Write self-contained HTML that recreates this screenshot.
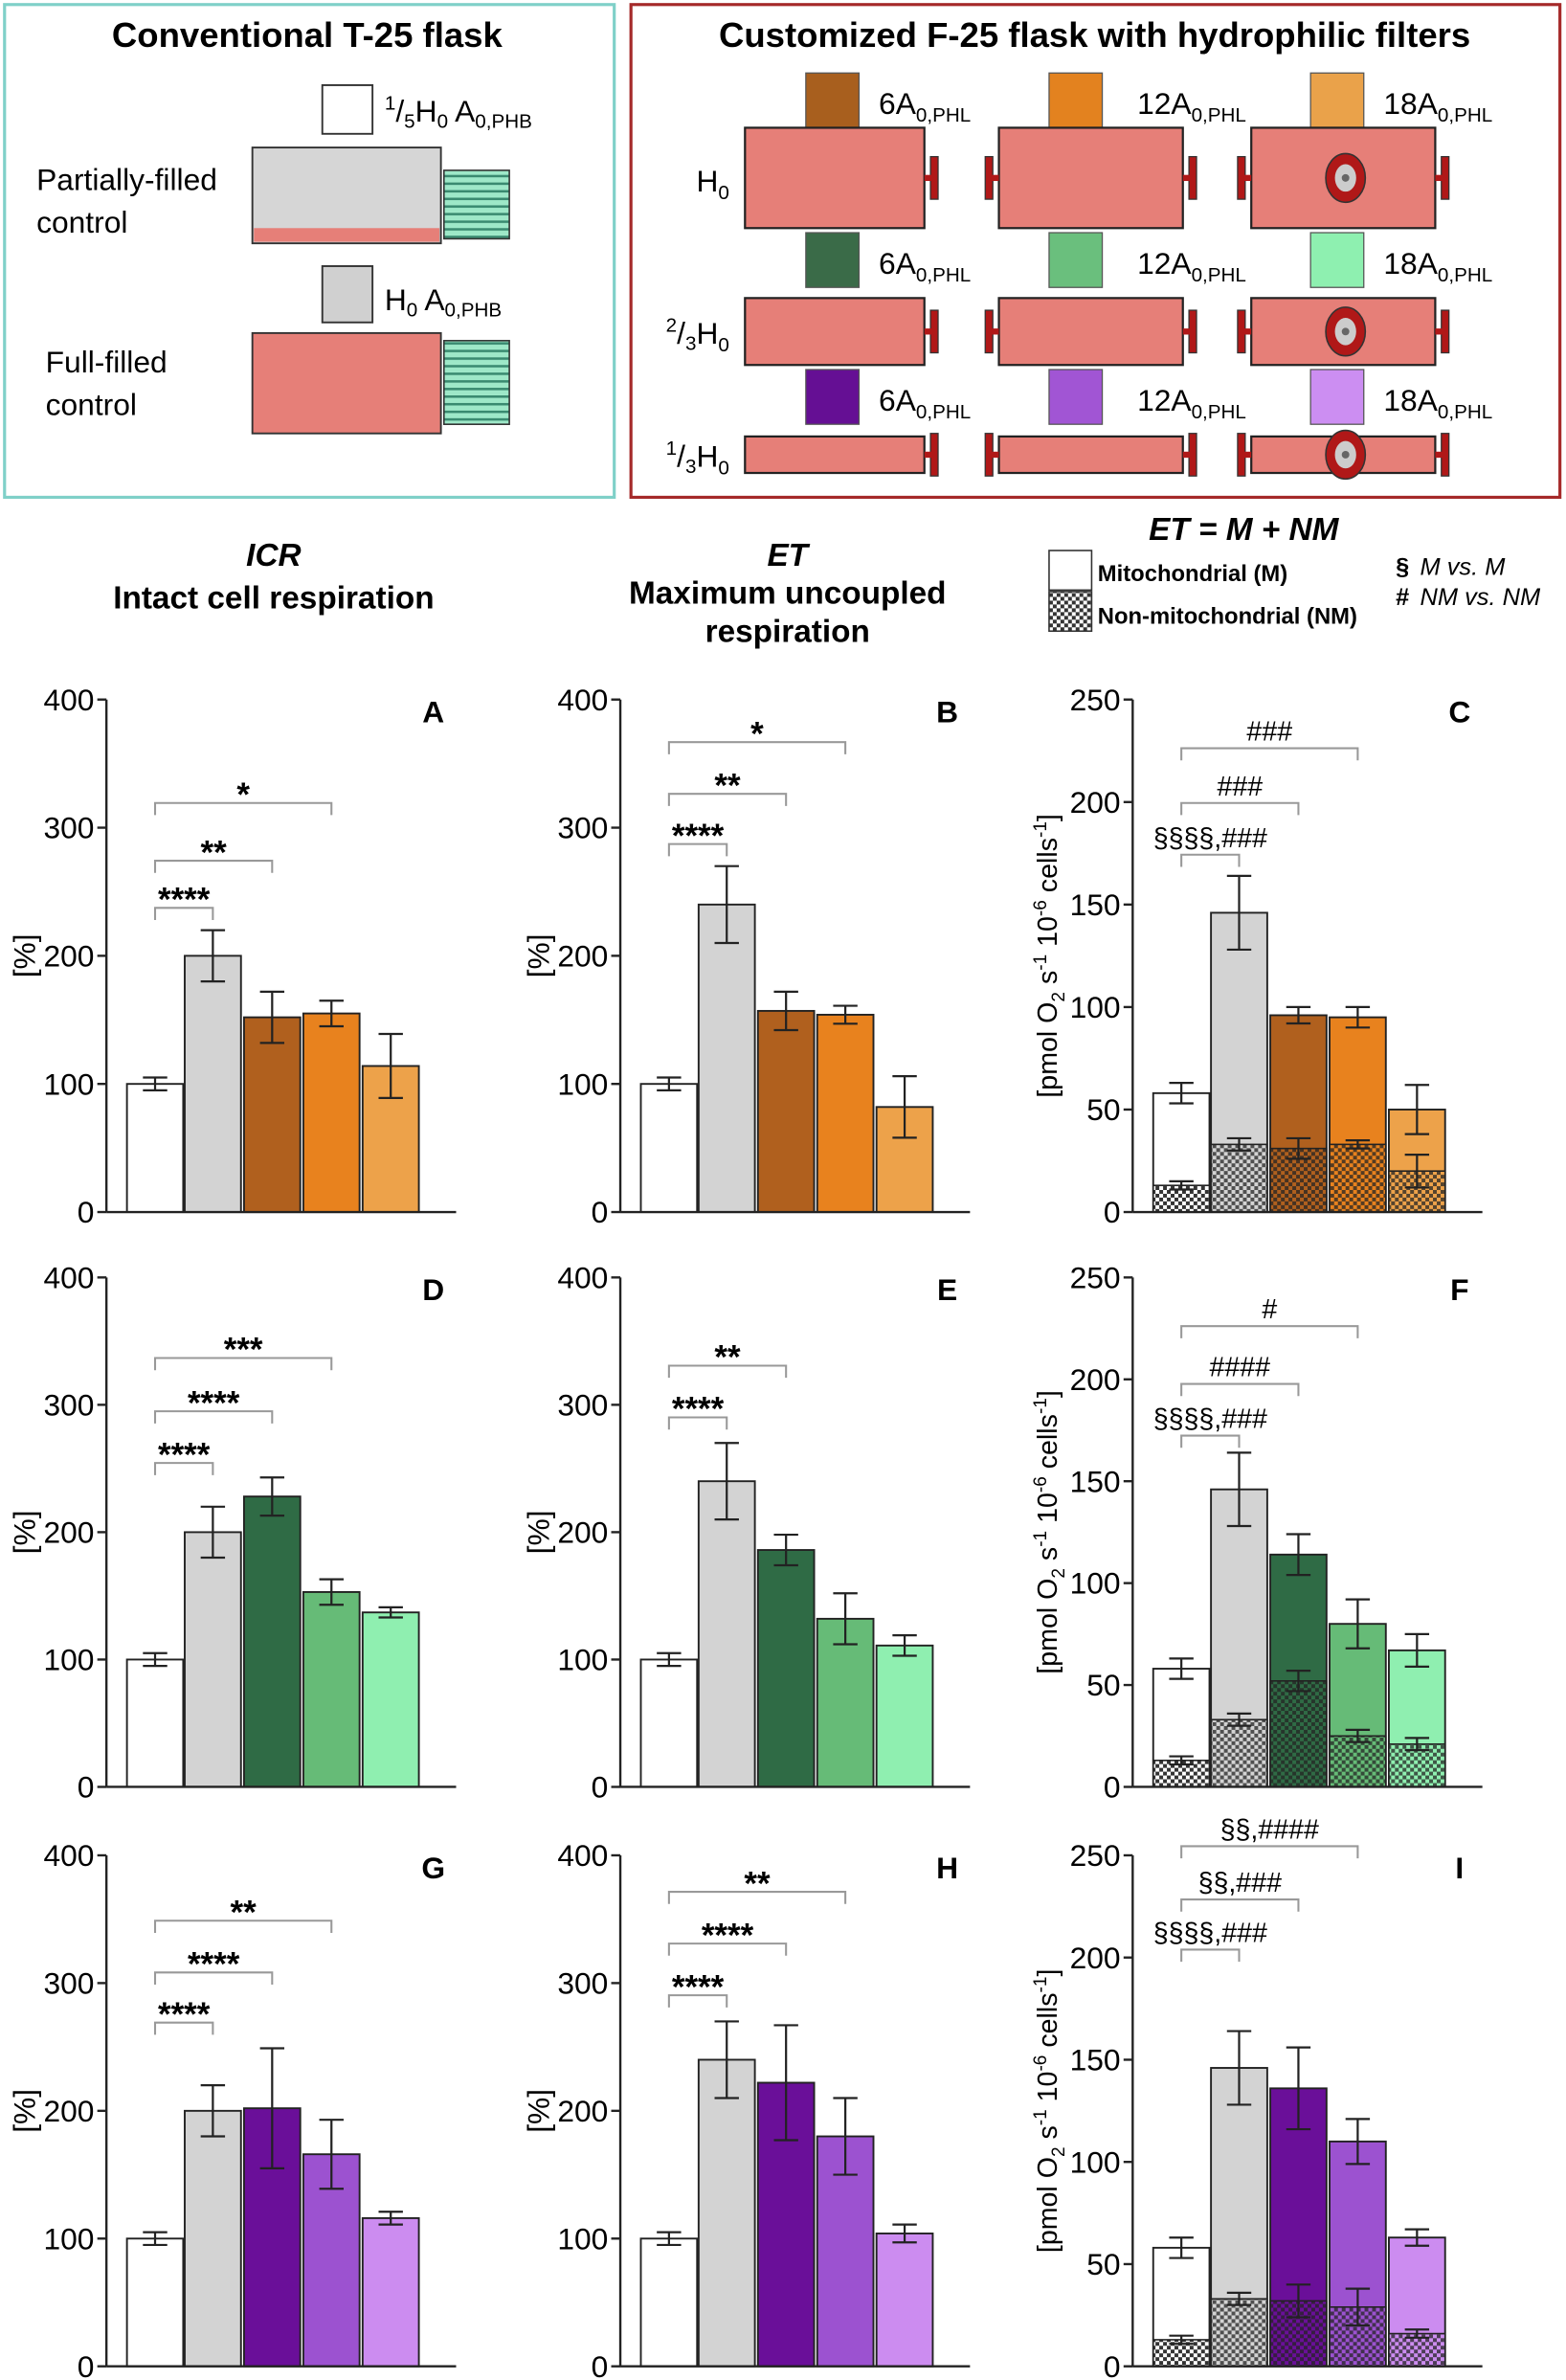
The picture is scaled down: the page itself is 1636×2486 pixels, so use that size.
<!DOCTYPE html>
<html><head><meta charset="utf-8">
<style>
html,body{margin:0;padding:0;background:#fff;}
svg{display:block;font-family:"Liberation Sans",sans-serif;}
</style></head>
<body>
<svg id="s" width="1636" height="2486" viewBox="0 0 1030 1565" preserveAspectRatio="none" xmlns="http://www.w3.org/2000/svg">
<defs>
<pattern id="chk" width="5" height="5" patternUnits="userSpaceOnUse">
<rect width="5" height="5" fill="#fff"/>
<rect width="2.5" height="2.5" fill="#333"/><rect x="2.5" y="2.5" width="2.5" height="2.5" fill="#333"/>
</pattern>
<pattern id="chk2" width="5" height="5" patternUnits="userSpaceOnUse">
<rect width="2.5" height="2.5" fill="#222" opacity="0.75"/><rect x="2.5" y="2.5" width="2.5" height="2.5" fill="#222" opacity="0.75"/>
</pattern>
<pattern id="str" width="10" height="5" patternUnits="userSpaceOnUse">
<rect width="10" height="5" fill="#9ee8c8"/><rect width="10" height="1.6" fill="#3a8a70"/>
</pattern>
</defs>
<g id="top"></g>
<g id="charts"></g>
</svg>
<script>
const NS="http://www.w3.org/2000/svg";
function el(p,t,a,txt){const e=document.createElementNS(NS,t);for(const k in a)e.setAttribute(k,a[k]);if(txt!==undefined)e.textContent=txt;p.appendChild(e);return e;}
const T=document.getElementById('top');
el(T,'rect',{x:3,y:3,width:401,height:324,fill:'none',stroke:'#7fd0c8','stroke-width':2});
el(T,'rect',{x:415,y:3,width:611,height:324,fill:'none',stroke:'#a52a2a','stroke-width':2});
el(T,'text',{x:202,y:31,'text-anchor':'middle','font-size':23,'font-weight':'bold'},'Conventional T-25 flask');
el(T,'text',{x:720,y:31,'text-anchor':'middle','font-size':23,'font-weight':'bold'},'Customized F-25 flask with hydrophilic filters');
const pink='#e67f78';
el(T,'rect',{x:212,y:56,width:33,height:32,fill:'#fff',stroke:'#333','stroke-width':1.2});
let t=el(T,'text',{x:253,y:80,'font-size':20});
t.innerHTML='<tspan font-size="13" dy="-8">1</tspan><tspan dy="8">/</tspan><tspan font-size="13" dy="4">5</tspan><tspan dy="-4">H</tspan><tspan font-size="13" dy="4">0</tspan><tspan dy="-4"> A</tspan><tspan font-size="13" dy="4">0,PHB</tspan>';
el(T,'rect',{x:166,y:97,width:124,height:63,fill:'#d6d6d6',stroke:'#333','stroke-width':1.2});
el(T,'rect',{x:167,y:150,width:122,height:9,fill:pink});
el(T,'rect',{x:292,y:112,width:43,height:45,fill:'url(#str)',stroke:'#333','stroke-width':1});
el(T,'text',{x:24,y:125,'font-size':20},'Partially-filled');
el(T,'text',{x:24,y:153,'font-size':20},'control');
el(T,'rect',{x:212,y:175,width:33,height:37,fill:'#d0d0d0',stroke:'#333','stroke-width':1.2});
t=el(T,'text',{x:253,y:204,'font-size':20});
t.innerHTML='H<tspan font-size="13" dy="4">0</tspan><tspan dy="-4"> A</tspan><tspan font-size="13" dy="4">0,PHB</tspan>';
el(T,'rect',{x:166,y:219,width:124,height:66,fill:pink,stroke:'#333','stroke-width':1.2});
el(T,'rect',{x:292,y:224,width:43,height:55,fill:'url(#str)',stroke:'#333','stroke-width':1});
el(T,'text',{x:30,y:245,'font-size':20},'Full-filled');
el(T,'text',{x:30,y:273,'font-size':20},'control');
const sw=[['#a85f1e','#e3821f','#eaa24a'],['#3a6b48','#6abf7d','#8ef0b0'],['#650f94','#a155d4','#cc8ef2']];
const swy=[48,153,243], fl=[[84,150],[196,240],[287,311]];
const sx=[530,690,862], lx=[578,748,910], fx=[[490,608],[657,778],[823,944]];
for(let r=0;r<3;r++){
 for(let i=0;i<3;i++){
  el(T,'rect',{x:sx[i],y:swy[r],width:35,height:36,fill:sw[r][i],stroke:'#555','stroke-width':0.8});
  let tt=el(T,'text',{x:lx[i],y:swy[r]+27,'font-size':20});
  tt.innerHTML=(i==0?'6':i==1?'12':'18')+'A<tspan font-size="13" dy="5">0,PHL</tspan>';
  const [y1,y2]=fl[r];
  el(T,'rect',{x:fx[i][0],y:y1,width:fx[i][1]-fx[i][0],height:y2-y1,fill:pink,stroke:'#222','stroke-width':1.4});
  const cy=(y1+y2)/2;
  el(T,'rect',{x:fx[i][1]+4,y:cy-14,width:5,height:28,fill:'#b01818',stroke:'#333','stroke-width':0.8});
  el(T,'rect',{x:fx[i][1],y:cy-2,width:5,height:4,fill:'#b01818'});
  if(i>0){el(T,'rect',{x:fx[i][0]-9,y:cy-14,width:5,height:28,fill:'#b01818',stroke:'#333','stroke-width':0.8});
   el(T,'rect',{x:fx[i][0]-5,y:cy-2,width:5,height:4,fill:'#b01818'});}
  if(i==2){el(T,'ellipse',{cx:885,cy:cy,rx:13,ry:16,fill:'#b01818',stroke:'#333'});
   el(T,'ellipse',{cx:885,cy:cy,rx:7,ry:9,fill:'#ccc'});el(T,'circle',{cx:885,cy:cy,r:2.5,fill:'#666'});}
 }
}
t=el(T,'text',{x:458,y:126,'font-size':20});t.innerHTML='H<tspan font-size="13" dy="5">0</tspan>';
t=el(T,'text',{x:438,y:226,'font-size':20});t.innerHTML='<tspan font-size="13" dy="-8">2</tspan><tspan dy="8">/</tspan><tspan font-size="13" dy="4">3</tspan><tspan dy="-4">H</tspan><tspan font-size="13" dy="5">0</tspan>';
t=el(T,'text',{x:438,y:307,'font-size':20});t.innerHTML='<tspan font-size="13" dy="-8">1</tspan><tspan dy="8">/</tspan><tspan font-size="13" dy="4">3</tspan><tspan dy="-4">H</tspan><tspan font-size="13" dy="5">0</tspan>';
el(T,'text',{x:180,y:372,'text-anchor':'middle','font-size':21,'font-weight':'bold','font-style':'italic'},'ICR');
el(T,'text',{x:180,y:400,'text-anchor':'middle','font-size':21,'font-weight':'bold'},'Intact cell respiration');
el(T,'text',{x:518,y:372,'text-anchor':'middle','font-size':21,'font-weight':'bold','font-style':'italic'},'ET');
el(T,'text',{x:518,y:397,'text-anchor':'middle','font-size':21,'font-weight':'bold'},'Maximum uncoupled');
el(T,'text',{x:518,y:422,'text-anchor':'middle','font-size':21,'font-weight':'bold'},'respiration');
el(T,'text',{x:818,y:355,'text-anchor':'middle','font-size':21,'font-weight':'bold','font-style':'italic'},'ET = M + NM');
el(T,'rect',{x:690,y:362,width:28,height:26,fill:'#fff',stroke:'#333'});
el(T,'rect',{x:690,y:389,width:28,height:26,fill:'url(#chk)',stroke:'#333'});
el(T,'text',{x:722,y:382,'font-size':15,'font-weight':'bold'},'Mitochondrial (M)');
el(T,'text',{x:722,y:410,'font-size':15,'font-weight':'bold'},'Non-mitochondrial (NM)');
el(T,'text',{x:918,y:378,'font-size':16,'font-weight':'bold'},'§ ');
el(T,'text',{x:934,y:378,'font-size':16,'font-style':'italic'},'M vs. M');
el(T,'text',{x:918,y:398,'font-size':16,'font-weight':'bold'},'# ');
el(T,'text',{x:934,y:398,'font-size':16,'font-style':'italic'},'NM vs. NM');

const C=document.getElementById('charts');
const cols=[70,408,745], rows=[[460,797],[840,1175],[1220,1556]];
const off=[32,70,109,148,187], bw=37;
const pal=[['#b0601e','#e8821e','#eda24a'],['#2f6b45','#66bb77','#8fefb0'],['#6a0f99','#9c52d0','#cc8cf0']];
const pct=[
 [[[100,5],[200,20],[152,20],[155,10],[114,25]],[[100,5],[240,30],[157,15],[154,7],[82,24]]],
 [[[100,5],[200,20],[228,15],[153,10],[137,4]],[[100,5],[240,30],[186,12],[132,20],[111,8]]],
 [[[100,5],[200,20],[202,47],[166,27],[116,5]],[[100,5],[240,30],[222,45],[180,30],[104,7]]]];
const et=[
 [[58,5,13,2],[146,18,33,3],[96,4,31,5],[95,5,33,2],[50,12,20,8]],
 [[58,5,13,2],[146,18,33,3],[114,10,52,5],[80,12,25,3],[67,8,21,3]],
 [[58,5,13,2],[146,18,33,3],[136,20,32,8],[110,11,29,9],[63,4,16,2]]];
const br=[
 [[[597,1,'****'],[566,2,'**'],[528,3,'*']],[[555,1,'****'],[522,2,'**'],[488,3,'*']],[[562,1,'§§§§,###'],[528,2,'###'],[492,3,'###']]],
 [[[962,1,'****'],[928,2,'****'],[893,3,'***']],[[932,1,'****'],[898,2,'**']],[[944,1,'§§§§,###'],[910,2,'####'],[872,3,'#']]],
 [[[1330,1,'****'],[1297,2,'****'],[1263,3,'**']],[[1312,1,'****'],[1278,2,'****'],[1244,3,'**']],[[1282,1,'§§§§,###'],[1249,2,'§§,###'],[1214,3,'§§,####']]]];
const letters=[['A','B','C'],['D','E','F'],['G','H','I']];
function ebar(x,yv,ye,sc){el(C,'line',{x1:x,x2:x,y1:yv-ye*sc,y2:yv+ye*sc,stroke:'#222','stroke-width':1.4});
 el(C,'line',{x1:x-8,x2:x+8,y1:yv-ye*sc,y2:yv-ye*sc,stroke:'#222','stroke-width':1.4});
 el(C,'line',{x1:x-8,x2:x+8,y1:yv+ye*sc,y2:yv+ye*sc,stroke:'#222','stroke-width':1.4});}
for(let r=0;r<3;r++){
 const [top,bot]=rows[r];
 for(let c=0;c<3;c++){
  const ax=cols[c];
  const max=c<2?400:250, step=c<2?100:50, sc=(bot-top)/max;
  const fills=['#fff','#d3d3d3'].concat(pal[r]);
  for(let i=0;i<5;i++){
   const cx=ax+off[i], x=cx-bw/2;
   if(c<2){const [v,e]=pct[r][c][i];
    el(C,'rect',{x:x,y:bot-v*sc,width:bw,height:v*sc,fill:fills[i],stroke:'#222','stroke-width':1.2});
    ebar(cx,bot-v*sc,e,sc);
   }else{const [v,e,n,ne]=et[r][i];
    el(C,'rect',{x:x,y:bot-v*sc,width:bw,height:v*sc,fill:fills[i],stroke:'#222','stroke-width':1.2});
    el(C,'rect',{x:x,y:bot-n*sc,width:bw,height:n*sc,fill:fills[i]});
    el(C,'rect',{x:x,y:bot-n*sc,width:bw,height:n*sc,fill:i==0?'url(#chk)':'url(#chk2)',stroke:'#222','stroke-width':1});
    ebar(cx,bot-v*sc,e,sc);ebar(cx,bot-n*sc,ne,sc);
   }
  }
  el(C,'line',{x1:ax,x2:ax,y1:top,y2:bot,stroke:'#222','stroke-width':1.5});
  el(C,'line',{x1:ax,x2:ax+230,y1:bot,y2:bot,stroke:'#222','stroke-width':1.5});
  for(let v=0;v<=max;v+=step){const y=bot-v*sc;
   el(C,'line',{x1:ax-6,x2:ax,y1:y,y2:y,stroke:'#222','stroke-width':1.5});
   el(C,'text',{x:ax-8,y:y+7,'text-anchor':'end','font-size':20},String(v));}
  el(C,'text',{x:ax+215,y:top+15,'text-anchor':'middle','font-size':20,'font-weight':'bold'},letters[r][c]);
  const my=(top+bot)/2;
  if(c<2){const lx=ax-47;el(C,'text',{x:lx,y:my,'text-anchor':'middle','font-size':20,transform:`rotate(-90 ${lx} ${my})`},'[%]');}
  else{const lx=ax-50;let tt=el(C,'text',{x:lx,y:my,'text-anchor':'middle','font-size':18,transform:`rotate(-90 ${lx} ${my})`});
   tt.innerHTML='[pmol O<tspan font-size="12" dy="5">2</tspan><tspan dy="-5"> s</tspan><tspan font-size="12" dy="-7">-1</tspan><tspan dy="7"> 10</tspan><tspan font-size="12" dy="-7">-6</tspan><tspan dy="7"> cells</tspan><tspan font-size="12" dy="-7">-1</tspan><tspan dy="7">]</tspan>';}
  for(const [y,k,s] of br[r][c]){
   const x1=ax+off[0], x2=ax+off[k];
   el(C,'path',{d:`M${x1} ${y+8}V${y}H${x2}V${y+8}`,fill:'none',stroke:'#999','stroke-width':1.3});
   const sym=s.indexOf('§')>=0||s.indexOf('#')>=0;
   el(C,'text',{x:(x1+x2)/2,y:sym?y-5:y+2,'text-anchor':'middle','font-size':sym?18:22,'font-weight':sym?'normal':'bold'},s);
  }
 }
}
</script>
</body></html>
